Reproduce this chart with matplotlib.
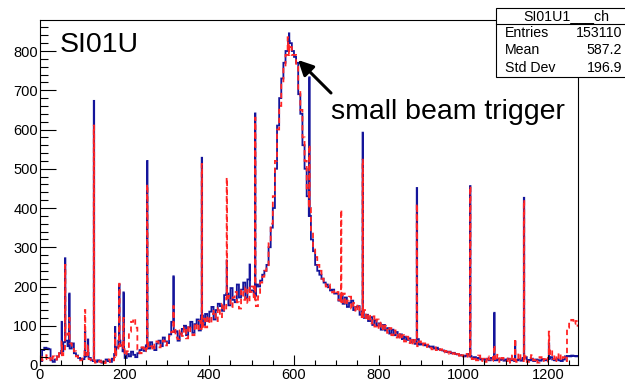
import numpy as np
import matplotlib
matplotlib.use("Agg")
import matplotlib.pyplot as plt
from matplotlib.ticker import MultipleLocator

plt.rcParams['font.family'] = ['Liberation Sans', 'DejaVu Sans']

# 5-channel background levels (channels 0..1279), one row = 100 channels
blue_bg = [10, 38, 44, 42, 40, 12, 8, 14, 22, 30, 35, 58, 62, 48, 42, 55, 30, 24, 18, 14,
           15, 22, 30, 18, 12, 10, 8, 12, 10, 6, 8, 14, 10, 8, 16, 28, 45, 62, 50, 35,
           18, 28, 22, 34, 26, 20, 30, 38, 44, 36, 50, 42, 58, 46, 38, 55, 62, 48, 70, 60,
           56, 78, 110, 84, 86, 62, 80, 92, 100, 76, 96, 110, 82, 104, 116, 88, 126, 102, 130, 112,
           136, 148, 116, 140, 156, 150, 138, 178, 182, 152, 196, 166, 160, 205, 172, 192, 210, 170, 218, 190,
           190, 176, 205, 200, 215, 230, 240, 255, 300, 350, 400, 500, 610, 680, 730, 770, 800, 825, 820, 800,
           785, 770, 690, 640, 560, 500, 430, 380, 320, 290, 255, 240, 230, 220, 210, 205, 198, 190, 192, 182,
           182, 164, 178, 156, 172, 148, 158, 164, 140, 148, 150, 128, 136, 120, 128, 112, 122, 102, 114, 100,
           106, 90, 102, 88, 94, 80, 90, 76, 84, 72, 78, 66, 72, 64, 68, 58, 64, 54, 66, 52,
           54, 52, 50, 48, 46, 47, 42, 44, 40, 38, 37, 35, 33, 34, 30, 31, 28, 27, 25, 24,
           22, 24, 28, 22, 18, 20, 16, 18, 14, 15, 13, 16, 12, 18, 14, 12, 16, 13, 15, 11,
           14, 16, 12, 14, 10, 12, 15, 11, 18, 20, 13, 12, 16, 10, 14, 12, 11, 15, 13, 12,
           16, 20, 14, 12, 16, 12, 10, 14, 22, 23, 22, 24, 23, 22, 23, 22]
red_bg = [20, 12, 15, 25, 18, 10, 22, 14, 30, 20, 25, 40, 70, 80, 55, 45, 35, 22, 15, 12,
          20, 35, 25, 15, 10, 12, 6, 10, 8, 12, 5, 10, 14, 8, 12, 20, 35, 48, 58, 40,
          25, 35, 85, 110, 118, 95, 40, 30, 45, 35, 42, 55, 48, 38, 52, 60, 45, 56, 62, 50,
          62, 74, 84, 98, 70, 66, 88, 74, 96, 68, 100, 82, 76, 106, 88, 112, 92, 118, 96, 124,
          106, 130, 138, 112, 146, 122, 156, 138, 170, 176, 148, 172, 186, 160, 144, 192, 166, 198, 158, 186,
          200, 165, 150, 175, 210, 225, 240, 250, 310, 360, 430, 520, 600, 660, 720, 760, 790, 815, 810, 790,
          790, 760, 700, 650, 580, 520, 450, 400, 340, 300, 275, 255, 240, 220, 210, 200, 205, 195, 185, 190,
          186, 166, 160, 182, 154, 164, 174, 144, 158, 136, 154, 132, 122, 140, 114, 130, 106, 124, 98, 116,
          92, 108, 88, 100, 82, 94, 76, 88, 70, 82, 66, 76, 60, 72, 56, 68, 52, 64, 48, 60,
          50, 55, 46, 52, 44, 40, 45, 38, 35, 40, 32, 36, 28, 33, 26, 30, 24, 28, 20, 25,
          22, 28, 18, 25, 15, 20, 12, 24, 10, 16, 8, 22, 14, 10, 20, 12, 26, 8, 18, 14,
          10, 20, 6, 24, 12, 8, 30, 14, 10, 22, 8, 18, 25, 12, 16, 6, 20, 10, 15, 8,
          28, 40, 15, 25, 10, 30, 12, 20, 10, 95, 110, 115, 105, 112, 100, 108]

# single-channel spikes: channel, blue counts, red counts
spike_ch = [51, 59, 69, 106, 113, 127, 177, 187, 197, 253, 315, 382, 441, 495,
            508, 585, 588, 636, 711, 762, 890, 1016, 1073, 1122, 1143, 1202]
spike_blue = [110, 272, 182, 85, 65, 673, 97, 205, 185, 520, 226, 528, 265, 256,
              641, 800, 845, 733, 180, 592, 451, 456, 133, 60, 426, 55]
spike_red = [60, 255, 120, 140, 50, 610, 80, 207, 120, 460, 150, 512, 477, 200,
             630, 835, 790, 560, 395, 523, 410, 455, 50, 67, 420, 85]

stats_labels = ["Entries", "Mean", "Std Dev"]
stats_values = ["153110", "587.2", "196.9"]

blue = np.repeat(np.array(blue_bg, float), 5)
red = np.repeat(np.array(red_bg, float), 5)
blue[spike_ch] = spike_blue
red[spike_ch] = spike_red
edges = np.arange(len(blue) + 1)

fig = plt.figure(figsize=(6.25, 3.84), dpi=100)
ax = fig.add_axes([40 / 625, 19 / 384, 538 / 625, 345 / 384])

ax.stairs(blue, edges, color='#14149a', lw=1.3)
ax.stairs(red, edges, color='#ff2424', lw=1.3, linestyle=(0, (3, 2)))

ax.set_xlim(0, 1271)
ax.set_ylim(0, 879)
ax.xaxis.set_major_locator(MultipleLocator(200))
ax.xaxis.set_minor_locator(MultipleLocator(50))
ax.yaxis.set_major_locator(MultipleLocator(100))
ax.yaxis.set_minor_locator(MultipleLocator(20))
ax.tick_params(axis='x', which='major', direction='in', length=7.2, width=0.8,
               labelsize=10.5, pad=2, top=False)
ax.tick_params(axis='x', which='minor', direction='in', length=3.6, width=0.8, top=False)
ax.tick_params(axis='y', which='major', direction='in', length=11.5, width=0.8,
               labelsize=10.5, pad=1.5, right=False)
ax.tick_params(axis='y', which='minor', direction='in', length=5.8, width=0.8, right=False)
for s in ax.spines.values():
    s.set_linewidth(0.8)

ax.text(60 / 625, 1 - 52 / 384, "SI01U", transform=fig.transFigure, fontsize=20.5,
        va='baseline', ha='left')
ax.text(331 / 625, 1 - 119 / 384, "small beam trigger", transform=fig.transFigure,
        fontsize=20.5, va='baseline', ha='left')
ax.annotate('', xy=(298 / 625, 1 - 60 / 384), xytext=(331 / 625, 1 - 93 / 384),
            xycoords='figure fraction', textcoords='figure fraction',
            arrowprops=dict(arrowstyle='-|>,head_length=0.9,head_width=0.45',
                            color='black', lw=2.2, shrinkA=0, shrinkB=0))

# stats box
bx0, bx1, by0, by1 = 496 / 625, 660 / 625, 1 - 77 / 384, 1 - 8 / 384
fig.patches.append(plt.Rectangle((bx0, by0), bx1 - bx0, by1 - by0, transform=fig.transFigure,
                                 facecolor='white', edgecolor='black', lw=0.8, zorder=5))
fig.lines.append(plt.Line2D([bx0, bx1], [1 - 24 / 384] * 2, transform=fig.transFigure,
                            color='black', lw=0.8, zorder=6))
fig.text(566 / 625, 1 - 20 / 384, "SI01U1___ch", fontsize=10.2, ha='center',
         va='baseline', zorder=7)
for i, (lab, val) in enumerate(zip(stats_labels, stats_values)):
    yb = 1 - (37 + 17.5 * i) / 384
    fig.text(505 / 625, yb, lab, fontsize=10.2, ha='left', va='baseline', zorder=7)
    fig.text(622 / 625, yb, val, fontsize=10.2, ha='right', va='baseline', zorder=7)

fig.savefig("out.png", dpi=100)
